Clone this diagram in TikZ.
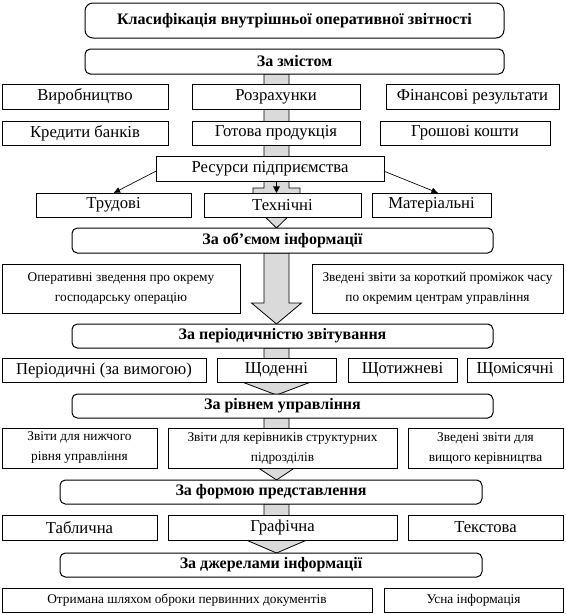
\documentclass[tikz,border=0pt]{standalone}
\usepackage{fontspec}
\setmainfont{Liberation Serif}
\usetikzlibrary{arrows.meta,calc}
\pgfdeclarelayer{bg}
\pgfsetlayers{bg,main}
\definecolor{arrgray}{RGB}{218,218,218}
\tikzset{
  box/.style={draw, line width=0.75pt, fill=white, inner sep=0pt, outer sep=0pt, align=center,
    font=\fontsize{12.5}{14}\selectfont},
  smallbox/.style={box, font=\fontsize{10}{15}\selectfont},
  headbox/.style={box, rounded corners=4pt, font=\bfseries\fontsize{12}{14}\selectfont},
  titlebox/.style={headbox, rounded corners=6pt},
  garrow/.style={draw, line width=0.6pt, fill=arrgray},
  thinarrow/.style={draw, line width=0.5pt, -{Latex[length=5pt,width=4.5pt]}},
  blkarrow/.style={draw, line width=0.8pt, -{Triangle[length=5pt,width=5pt]}},
}
\newcommand\bx[7]{%
  \pgfmathsetmacro\bw{(#4-#2)*0.75}%
  \pgfmathsetmacro\bh{(#5-#3)*0.75}%
  \node[#6, minimum width=\bw pt, minimum height=\bh pt, anchor=north west] (#1) at (#2,#3) {#7};}
\begin{document}
\begin{tikzpicture}[x=0.75pt,y=-0.75pt]
\useasboundingbox (0,0) rectangle (566,614);
% boxes
\bx{title}{85}{3}{504}{38}{titlebox}{Класифікація внутрішньої оперативної звітності}
\bx{zm}{85}{49}{504}{74}{headbox}{За змістом}
\bx{vyr}{2}{84}{168}{109}{box}{Виробництво}
\bx{roz}{192}{84}{360}{109}{box}{Розрахунки}
\bx{fin}{386}{84}{559}{109}{box}{Фінансові результати}
\bx{kred}{2}{121}{168}{145}{box}{Кредити банків}
\bx{got}{192}{121}{360}{145}{box}{Готова продукція}
\bx{gro}{380}{121}{550}{145}{box}{Грошові кошти}
\bx{res}{156}{156}{384}{181}{box}{Ресурси підприємства}
\bx{trud}{36}{193}{191}{217}{box}{Трудові}
\bx{tech}{204}{193}{361}{217}{box}{Технічні}
\bx{mat}{372}{193}{491}{217}{box}{Матеріальні}
\bx{obs}{72}{228}{493}{253}{headbox}{За об’ємом інформації}
\bx{oper}{2}{264}{240}{313}{smallbox}{Оперативні зведення про окрему\\господарську операцію}
\bx{zved}{312}{264}{563}{313}{smallbox}{Зведені звіти за короткий проміжок часу\\по окремим центрам управління}
\bx{per}{72}{324}{493}{348}{headbox}{За періодичністю звітування}
\bx{pd}{2}{358}{206}{382}{box}{Періодичні (за вимогою)}
\bx{shd}{217}{358}{336}{382}{box}{Щоденні}
\bx{sht}{348}{358}{457}{382}{box}{Щотижневі}
\bx{shm}{467}{358}{563}{382}{box}{Щомісячні}
\bx{riv}{72}{394}{493}{418}{headbox}{За рівнем управління}
\bx{zn}{2}{428}{157}{468}{smallbox}{Звіти для нижчого\\рівня управління}
\bx{zk}{168}{428}{397}{468}{smallbox}{Звіти для керівників структурних\\підрозділів}
\bx{zv}{408}{428}{563}{468}{smallbox}{Зведені звіти для\\вищого керівництва}
\bx{form}{60}{480}{482}{504}{headbox}{За формою представлення}
\bx{tab}{2}{515}{157}{540}{box}{Таблична}
\bx{graf}{168}{515}{397}{540}{box}{Графічна}
\bx{txt}{408}{515}{563}{540}{box}{Текстова}
\bx{dzh}{60}{553}{482}{577}{headbox}{За джерелами інформації}
\bx{otr}{2}{588}{372}{612}{smallbox}{Отримана шляхом оброки первинних документів}
\bx{usna}{384}{588}{563}{612}{smallbox}{Усна інформація}
% connectors
\coordinate (ax) at (276.5,0);
\draw[blkarrow] (res.south -| ax) -- (tech.north -| ax);
\draw[thinarrow] ([yshift=-2pt]res.west) -- (trud.north);
\draw[thinarrow] ([yshift=-2pt]res.east) -- ([xshift=5pt]mat.north);
% big grey arrows behind
\begin{pgfonlayer}{bg}
\draw[garrow] (264,74) -- (264,188) -- (253,188) -- (253,205) -- (276.5,228) -- (300,205) -- (300,188) -- (289,188) -- (289,74) -- cycle;
\draw[garrow] (264,253) -- (264,303) -- (251.5,303) -- (276.5,324) -- (301.5,303) -- (289,303) -- (289,253) -- cycle;
\draw[garrow] (264,348) -- (264,381) -- (239.5,381) -- (276.5,395) -- (313.5,381) -- (289,381) -- (289,348) -- cycle;
\draw[garrow] (264,418) -- (264,462) -- (249.5,462) -- (276.5,480) -- (303.5,462) -- (289,462) -- (289,418) -- cycle;
\draw[garrow] (264,504) -- (264,538) -- (241.5,538) -- (276.5,553) -- (311.5,538) -- (289,538) -- (289,504) -- cycle;
\end{pgfonlayer}
\end{tikzpicture}
\end{document}
